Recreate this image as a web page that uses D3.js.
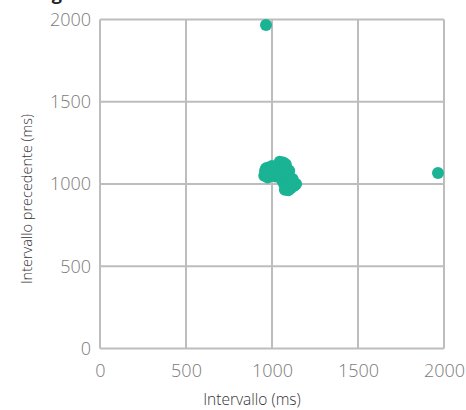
<!DOCTYPE html>
<html>
<head>
<meta charset="utf-8">
<script src="https://cdn.jsdelivr.net/npm/d3@7"></script>
<style>
  html, body { margin: 0; padding: 0; background: #fff; }
  svg { display: block; }
  text { font-family: "Open Sans", sans-serif; }
</style>
</head>
<body>
<svg id="chart" width="466" height="410"></svg>
<script>
// ---- data (RR intervals, ms) ----
const title = "Diagramma di Poincaré";
const xLabel = "Intervallo (ms)";
const yLabel = "Intervallo precedente (ms)";
const tickValues = [0, 500, 1000, 1500, 2000];
const intervalX = [
  955, 960, 965, 970, 975, 980, 990, 985, 962, 978,
  1000, 1010, 1020, 1030, 1040, 1045, 1050, 1055, 1060, 1065,
  1070, 1075, 1080, 1090, 1095, 1100, 1020, 1040, 1005, 1010,
  1050, 1060, 1070, 1080, 1090, 1100, 1110, 1120, 1130, 1140,
  1110, 1085, 1100, 1120, 1065, 1035, 1000, 990, 1075, 1095,
  1965, 965
];
const intervalY = [
  1050, 1080, 1095, 1060, 1040, 1100, 1070, 1050, 1075, 1085,
  1090, 1060, 1100, 1080, 1110, 1135, 1120, 1090, 1070, 1130,
  1100, 1060, 1120, 1090, 1060, 1080, 1045, 1050, 1060, 1100,
  1040, 1020, 1000, 980, 970, 990, 1010, 1000, 990, 1000,
  975, 1030, 1040, 1030, 1060, 1070, 1110, 1095, 965, 962,
  1067, 1967
];

// ---- layout ----
const svg = d3.select("#chart");
const mLeft = 100, mRight = 444, mTop = 19.5, mBottom = 348.5;

const x = d3.scaleLinear().domain([0, 2000]).range([mLeft, mRight]);
const y = d3.scaleLinear().domain([0, 2000]).range([mBottom, mTop]);

const gridColor = "#bdbdbd";
const tickColor = "#7a7a7a";

// title (cut off at top, as in reference)
svg.append("text")
  .attr("x", 22).attr("y", 0)
  .attr("font-size", 18).attr("font-weight", 700)
  .attr("fill", "#222")
  .text(title);

// grid
const grid = svg.append("g");
grid.selectAll("line.v").data(tickValues).join("line")
  .attr("class", "v")
  .attr("x1", d => x(d)).attr("x2", d => x(d))
  .attr("y1", mTop).attr("y2", mBottom)
  .attr("stroke", gridColor).attr("stroke-width", 2);
grid.selectAll("line.h").data(tickValues).join("line")
  .attr("class", "h")
  .attr("x1", mLeft).attr("x2", mRight)
  .attr("y1", d => y(d)).attr("y2", d => y(d))
  .attr("stroke", gridColor).attr("stroke-width", 2);

// x axis
const xAxis = svg.append("g")
  .attr("transform", `translate(0,${mBottom})`)
  .call(d3.axisBottom(x).tickValues(tickValues).tickSize(0).tickPadding(16).tickFormat(d3.format("d")));
xAxis.select(".domain").remove();
xAxis.selectAll("text")
  .attr("font-family", "'Open Sans', sans-serif")
  .attr("font-size", 18).attr("font-weight", 300)
  .attr("fill", tickColor);

// y axis
const yAxis = svg.append("g")
  .attr("transform", `translate(${mLeft},0)`)
  .call(d3.axisLeft(y).tickValues(tickValues).tickSize(0).tickPadding(9).tickFormat(d3.format("d")));
yAxis.select(".domain").remove();
yAxis.selectAll("text")
  .attr("font-family", "'Open Sans', sans-serif")
  .attr("font-size", 18).attr("font-weight", 300)
  .attr("fill", tickColor);

// axis titles
svg.append("text")
  .attr("x", 252).attr("y", 405)
  .attr("text-anchor", "middle")
  .attr("font-size", 15.5).attr("font-weight", 300).attr("fill", "#333")
  .text(xLabel);
svg.append("text")
  .attr("transform", "translate(32,199) rotate(-90)")
  .attr("text-anchor", "middle")
  .attr("font-size", 14.5).attr("font-weight", 300).attr("fill", "#333")
  .text(yLabel);

// points
const pts = intervalX.map((v, i) => ({ x: v, y: intervalY[i] }));
svg.append("g").selectAll("circle").data(pts).join("circle")
  .attr("cx", d => x(d.x)).attr("cy", d => y(d.y))
  .attr("r", 6)
  .attr("fill", "#1ab394");
</script>
</body>
</html>
